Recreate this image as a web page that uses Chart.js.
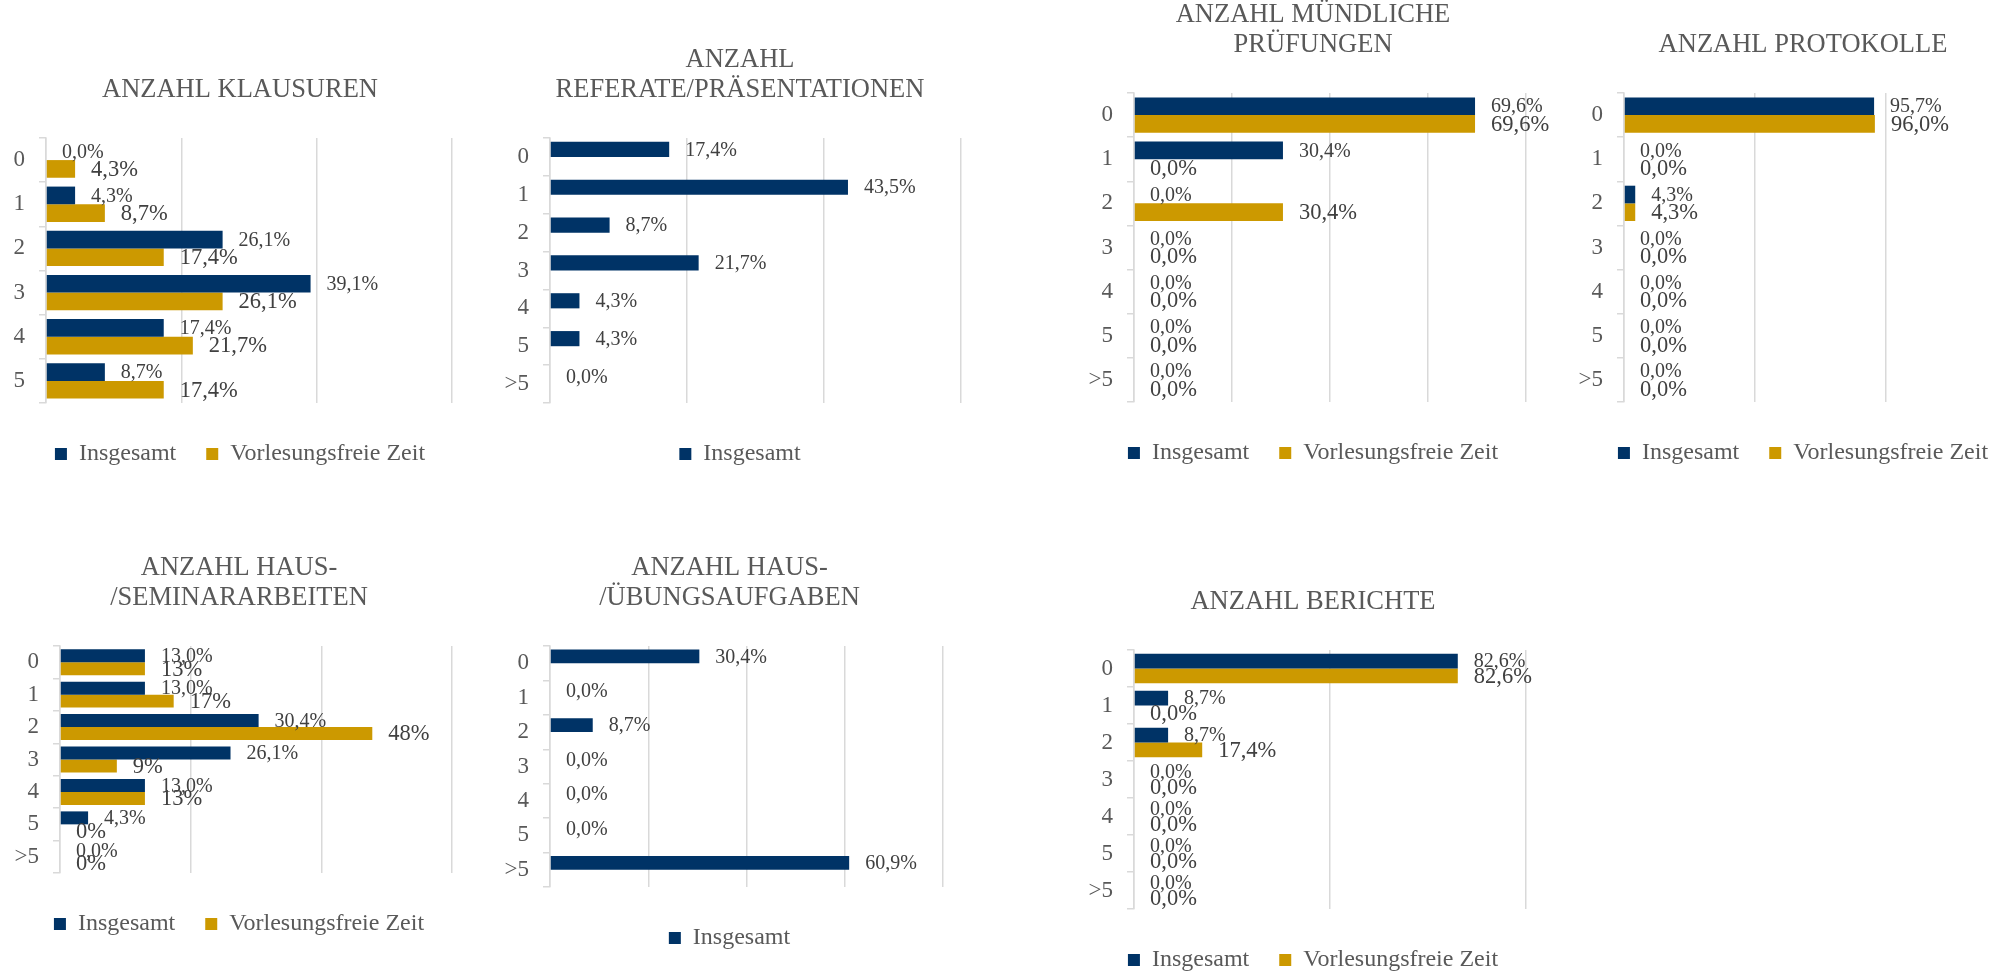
<!DOCTYPE html>
<html lang="de">
<head>
<meta charset="utf-8">
<title>Anzahl Prüfungsleistungen</title>
<script src="https://cdn.jsdelivr.net/npm/chart.js@4.4.1/dist/chart.umd.min.js"></script>
<style>
  html, body { margin: 0; padding: 0; background: #fff; overflow: hidden; }
  body { width: 2011px; height: 974px; position: relative; }
  .panel { position: absolute; }
</style>
</head>
<body>
<script>
// Survey results, percent of respondents (n = 23)
const seriesNames = ['Insgesamt', 'Vorlesungsfreie Zeit']
const catsSix = ['0', '1', '2', '3', '4', '5']
const catsSeven = ['0', '1', '2', '3', '4', '5', '>5']

const klausurenInsg = [0.0, 4.3, 26.1, 39.1, 17.4, 8.7]
const klausurenVorl = [4.3, 8.7, 17.4, 26.1, 21.7, 17.4]

const referateInsg = [17.4, 43.5, 8.7, 21.7, 4.3, 4.3, 0.0]

const muendlichInsg = [69.6, 30.4, 0.0, 0.0, 0.0, 0.0, 0.0]
const muendlichVorl = [69.6, 0.0, 30.4, 0.0, 0.0, 0.0, 0.0]

const protokolleInsg = [95.7, 0.0, 4.3, 0.0, 0.0, 0.0, 0.0]
const protokolleVorl = [96.0, 0.0, 4.3, 0.0, 0.0, 0.0, 0.0]

const seminarInsg = [13.0, 13.0, 30.4, 26.1, 13.0, 4.3, 0.0]
const seminarVorl = [13.0, 17.4, 47.8, 8.7, 13.0, 0.0, 0.0]

const uebungInsg = [30.4, 0.0, 8.7, 0.0, 0.0, 0.0, 60.9]

const berichteInsg = [82.6, 8.7, 8.7, 0.0, 0.0, 0.0, 0.0]
const berichteVorl = [82.6, 0.0, 17.4, 0.0, 0.0, 0.0, 0.0]

const FONT = "'Liberation Serif', 'Times New Roman', serif"
const NAVY = '#003366'
const GOLD = '#CC9900'
const GRID = '#d9d9d9'
const TEXT = '#595959'
const AXIS_W = 46   // room for the category labels left of the axis

// panel boxes: [left, top, width, height]; rightGap keeps title/legend centred like the original
const panels = [
  { title: ['ANZAHL KLAUSUREN'], labels: catsSix, series: [klausurenInsg, klausurenVorl], digits: [1, 1], max: 60, step: 20, box: [0, 75, 504, 401], rightGap: 28 },
  { title: ['ANZAHL', 'REFERATE/PRÄSENTATIONEN'], labels: catsSeven, series: [referateInsg, null], digits: [1, 1], max: 60, step: 20, box: [504, 45, 496, 431], rightGap: 15 },
  { title: ['ANZAHL MÜNDLICHE', 'PRÜFUNGEN'], labels: catsSeven, series: [muendlichInsg, muendlichVorl], digits: [1, 1], max: 80, step: 20, box: [1088, 0, 474, 475], rightGap: 12 },
  { title: ['ANZAHL PROTOKOLLE'], labels: catsSeven, series: [protokolleInsg, protokolleVorl], digits: [1, 1], max: 150, step: 50, box: [1578, 30, 474, 445], rightGap: 12 },
  { title: ['ANZAHL HAUS-', '/SEMINARARBEITEN'], labels: catsSeven, series: [seminarInsg, seminarVorl], digits: [1, 0], max: 60, step: 20, box: [14, 553, 474, 393], rightGap: 12 },
  { title: ['ANZAHL HAUS-', '/ÜBUNGSAUFGABEN'], labels: catsSeven, series: [uebungInsg, null], digits: [1, 1], max: 80, step: 20, box: [504, 553, 475, 407], rightGap: 12 },
  { title: ['ANZAHL BERICHTE'], labels: catsSeven, series: [berichteInsg, berichteVorl], digits: [1, 1], max: 100, step: 50, box: [1088, 587, 474, 395], rightGap: 12 }
]

// Draws the value next to the end of every bar (German decimal comma)
const barValueLabels = {
  id: 'barValueLabels',
  afterDatasetsDraw(chart) {
    const ctx = chart.ctx
    ctx.save()
    ctx.textAlign = 'left'
    ctx.textBaseline = 'middle'
    ctx.fillStyle = '#404040'
    chart.data.datasets.forEach((ds, i) => {
      const meta = chart.getDatasetMeta(i)
      ctx.font = ds.labelSize + 'px ' + FONT
      meta.data.forEach((bar, j) => {
        const v = ds.data[j]
        if (v === null || v === undefined) return
        const txt = v.toFixed(ds.digits).replace('.', ',') + '%'
        ctx.fillText(txt, bar.x + 16, bar.y + 1)
      })
    })
    ctx.restore()
  }
}

function makeChart(spec) {
  const [left, top, width, height] = spec.box
  const div = document.createElement('div')
  div.className = 'panel'
  div.style.left = left + 'px'
  div.style.top = top + 'px'
  div.style.width = width + 'px'
  div.style.height = height + 'px'
  const canvas = document.createElement('canvas')
  div.appendChild(canvas)
  document.body.appendChild(div)

  const colors = [NAVY, GOLD]
  const sizes = [20, 22.5]
  const datasets = spec.series.map((data, i) => ({
    label: seriesNames[i],
    data: data || [],
    hideInLegend: !data,
    backgroundColor: colors[i],
    borderWidth: 0,
    categoryPercentage: 0.8,
    barPercentage: 1.0,
    digits: spec.digits[i],
    labelSize: sizes[i]
  }))

  return new Chart(canvas, {
    type: 'bar',
    data: { labels: spec.labels, datasets },
    plugins: [barValueLabels],
    options: {
      indexAxis: 'y',
      responsive: true,
      maintainAspectRatio: false,
      animation: false,
      layout: { padding: { left: 0, right: 24, top: 0, bottom: 0 } },
      scales: {
        x: {
          min: 0,
          max: spec.max,
          ticks: { display: false, stepSize: spec.step },
          grid: { color: GRID, lineWidth: 1.5, drawTicks: false },
          border: { display: false },
          afterFit: (scale) => { scale.height = 9 }
        },
        y: {
          ticks: { color: TEXT, padding: 14, autoSkip: false, font: { family: FONT, size: 23 } },
          grid: { color: GRID, lineWidth: 1.5, drawOnChartArea: false, tickLength: 7 },
          border: { color: GRID, width: 1.5 },
          afterFit: (scale) => { scale.width = AXIS_W }
        },
        // empty strip on the right, only used for spacing
        spacer: {
          axis: 'y',
          type: 'category',
          position: 'right',
          ticks: { display: false },
          grid: { display: false },
          border: { display: false },
          afterFit: (scale) => { scale.width = spec.rightGap }
        }
      },
      plugins: {
        tooltip: { enabled: false },
        title: {
          display: true,
          text: spec.title,
          color: TEXT,
          font: { family: FONT, size: 26.5, weight: 'normal', lineHeight: '30px' },
          padding: { top: 0, bottom: 33 }
        },
        legend: {
          position: 'bottom',
          labels: {
            color: TEXT,
            boxWidth: 12,
            boxHeight: 12,
            padding: 30,
            font: { family: FONT, size: 24 },
            filter: (item, data) => !data.datasets[item.datasetIndex].hideInLegend
          }
        }
      }
    }
  })
}

panels.forEach(makeChart)
</script>
</body>
</html>
